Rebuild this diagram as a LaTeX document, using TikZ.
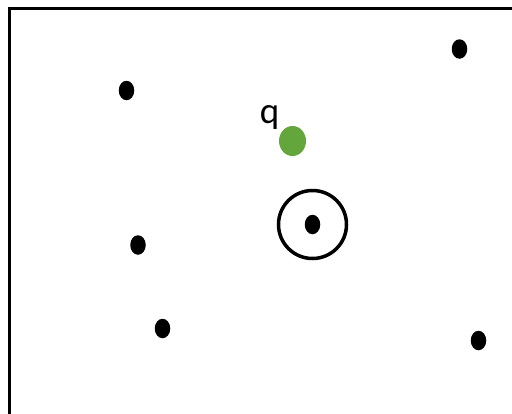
\documentclass[tikz,border=0pt]{standalone}
\usepackage{fontspec}
\setmainfont{Carlito}
\usepackage{tikz}
\usetikzlibrary{positioning, shapes.geometric}

\definecolor{querygreen}{RGB}{99,166,59}

\begin{document}
\begin{tikzpicture}[
  x=1pt, y=-1pt,
  pt/.style = {ellipse, fill=black, inner sep=0pt,
               minimum width=15.5pt, minimum height=19.5pt},
  qpt/.style = {ellipse, fill=querygreen, inner sep=0pt,
                minimum width=27pt, minimum height=30pt},
  ring/.style = {circle, draw, line width=3.5pt, inner sep=0pt,
                 minimum size=68pt},
  frame/.style = {draw, line width=3pt},
]
\path[use as bounding box] (0,0) rectangle (512,413);

% frame, cut off at the right and bottom
\begin{scope}
  \clip (0,0) rectangle (512,413);
  \draw[frame] (9.5,8.5) rectangle (530,430);
\end{scope}

% data points
\node[pt] (p1) at (126.5,90.5) {};
\node[pt] (p2) at (459.5,49) {};
\node[pt] (p3) at (138,245) {};
\node[pt] (p4) at (162.5,328.5) {};
\node[pt] (p5) at (478.5,340.5) {};
\node[pt] (nn) at (312.5,224.5) {};

% query point and its nearest neighbour
\node[qpt] (q) at (292.5,141) {};
\node[above left=-3pt and 0pt of q, font=\fontsize{37}{37}\selectfont] (qlabel) {q};
\node[ring] (nnring) at (nn) {};

\end{tikzpicture}
\end{document}
